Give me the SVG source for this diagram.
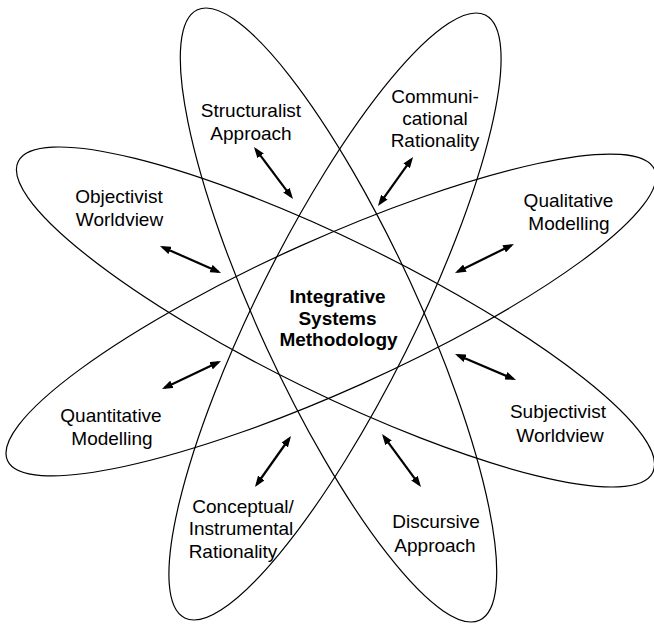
<svg xmlns="http://www.w3.org/2000/svg" width="654" height="625" viewBox="0 0 654 625">
<style>
.orbit{fill:none;stroke:#000;stroke-width:1.2}
.lbl{font-family:"Liberation Sans",Arial,Helvetica,sans-serif;font-size:19px;fill:#000;text-anchor:middle}
.core{font-family:"Liberation Sans",Arial,Helvetica,sans-serif;font-size:19px;font-weight:bold;fill:#000;text-anchor:middle}
.arr{stroke:#000;stroke-width:2.2;fill:none;marker-start:url(#ah);marker-end:url(#ah)}
</style>
<defs>
<marker id="ah" viewBox="0 0 11 8" refX="8" refY="4" markerWidth="11" markerHeight="8" markerUnits="userSpaceOnUse" orient="auto-start-reverse">
<path d="M0,0 L11,4 L0,8 z" fill="#000"/>
</marker>
</defs>
<rect width="654" height="625" fill="#fff"/>
<g id="orbits">
<ellipse id="orbit-approach" class="orbit" cx="338.5" cy="315" rx="336.2" ry="79" transform="rotate(65.2 338.5 315)"/>
<ellipse id="orbit-rationality" class="orbit" cx="335" cy="316.5" rx="336.8" ry="79" transform="rotate(-63.5 335 316.5)"/>
<ellipse id="orbit-worldview" class="orbit" cx="335.5" cy="317" rx="353.3" ry="76.6" transform="rotate(26.1 335.5 317)"/>
<ellipse id="orbit-modelling" class="orbit" cx="331" cy="315" rx="354.7" ry="75.5" transform="rotate(-24.2 331 315)"/>
</g>
<g id="connectors">
<line class="arr" x1="255.8" y1="149.4" x2="291.2" y2="196.6"/>
<line class="arr" x1="411.3" y1="159.4" x2="379.7" y2="203.6"/>
<line class="arr" x1="162.7" y1="247.2" x2="218.3" y2="271.8"/>
<line class="arr" x1="511.3" y1="245.3" x2="457.7" y2="271.7"/>
<line class="arr" x1="164.7" y1="387.7" x2="218.3" y2="362.3"/>
<line class="arr" x1="457.8" y1="355.2" x2="513.2" y2="378.8"/>
<line class="arr" x1="289.3" y1="438.5" x2="256.7" y2="484.5"/>
<line class="arr" x1="383.8" y1="436.4" x2="419.2" y2="484.6"/>
</g>
<g id="center">
<text class="core" x="337.5" y="303">Integrative</text>
<text class="core" x="337.5" y="325">Systems</text>
<text class="core" x="338.5" y="346">Methodology</text>
</g>
<g id="structuralist">
<text class="lbl" x="251" y="117">Structuralist</text>
<text class="lbl" x="251" y="140">Approach</text>
</g>
<g id="communicational">
<text class="lbl" x="435" y="103">Communi-</text>
<text class="lbl" x="435" y="125">cational</text>
<text class="lbl" x="435" y="147">Rationality</text>
</g>
<g id="objectivist">
<text class="lbl" x="119" y="203">Objectivist</text>
<text class="lbl" x="119.5" y="226">Worldview</text>
</g>
<g id="qualitative">
<text class="lbl" x="568.5" y="207">Qualitative</text>
<text class="lbl" x="569" y="230">Modelling</text>
</g>
<g id="quantitative">
<text class="lbl" x="111" y="422">Quantitative</text>
<text class="lbl" x="112" y="445">Modelling</text>
</g>
<g id="subjectivist">
<text class="lbl" x="558" y="418">Subjectivist</text>
<text class="lbl" x="560" y="442">Worldview</text>
</g>
<g id="conceptual">
<text class="lbl" x="243" y="513">Conceptual/</text>
<text class="lbl" x="241" y="535">Instrumental</text>
<text class="lbl" x="233" y="558">Rationality</text>
</g>
<g id="discursive">
<text class="lbl" x="436" y="528">Discursive</text>
<text class="lbl" x="435" y="552">Approach</text>
</g>
</svg>
